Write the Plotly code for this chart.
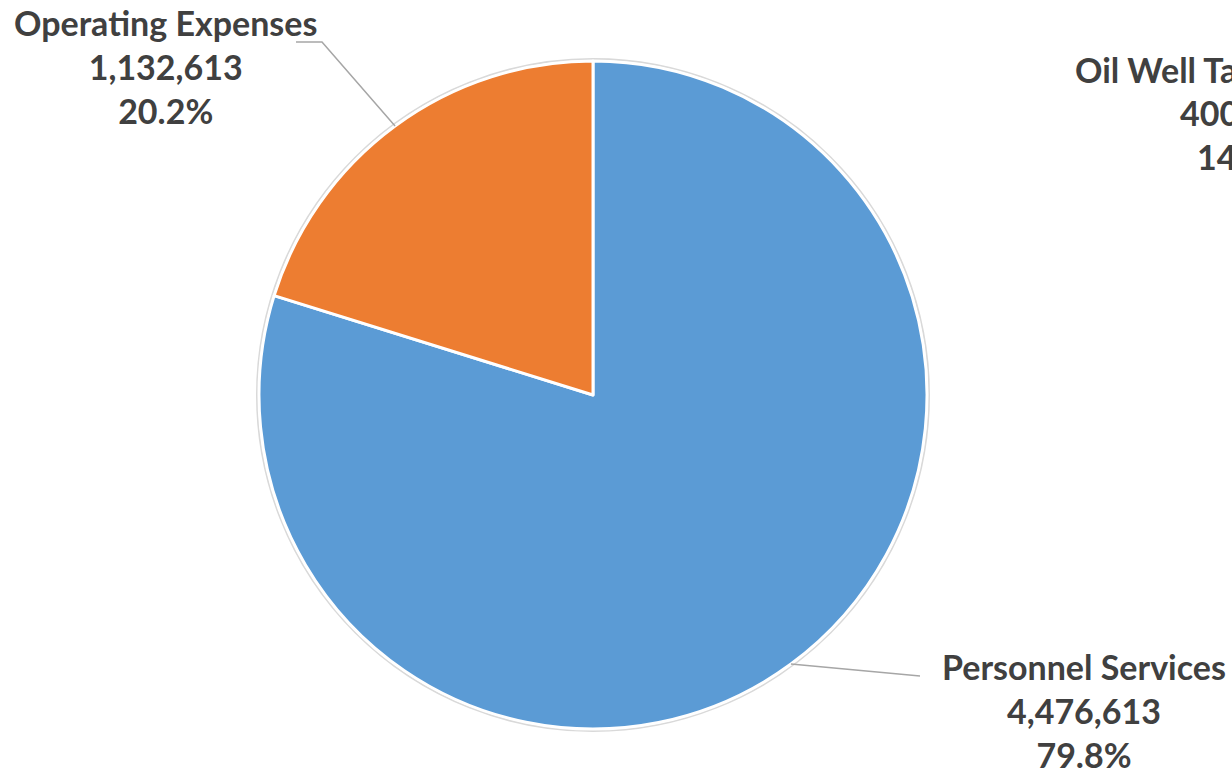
import math
import plotly.graph_objects as go

categories = ["Personnel Services", "Operating Expenses"]
values = [4476613, 1132613]
colors = ["#5B9BD5", "#ED7D31"]

# partially visible label at the right edge (cut off in the original)
extra_label_lines = ["Oil Well Ta", "400", "14"]

W, H = 1232, 772
cx, cy, R = 593, 395, 334  # pie centre / radius in pixels
FONT = "Lato"
FS = 34
TXT = "#404040"

dom_x = [(cx - R) / W, (cx + R) / W]
dom_y = [(H - cy - R) / H, (H - cy + R) / H]

fig = go.Figure()
fig.add_trace(go.Pie(
    labels=categories, values=values, sort=False, direction="clockwise",
    rotation=0, textinfo="none", hoverinfo="label+value+percent",
    marker=dict(colors=colors, line=dict(color="white", width=3)),
    domain=dict(x=dom_x, y=dom_y), showlegend=False,
))

def px2paper(x, y):
    return x / W, (H - y) / H

total = sum(values)
# label placement (layout) for each category
label_pos = {
    "Operating Expenses": dict(x=165, y=67, elbow=(322, 42), end=(296, 42)),
    "Personnel Services": dict(x=1084, y=710, elbow=(920, 676), end=(920, 676)),
}
cum = 0
shapes = []
annotations = []
for name, v in zip(categories, values):
    frac = v / total
    mid = cum + frac / 2
    cum += frac
    ang = math.radians(90 - 360 * mid)
    ex = cx + R * math.cos(ang)
    ey = cy - R * math.sin(ang)
    lp = label_pos[name]
    pts = [(ex, ey), lp["elbow"], lp["end"]]
    path = "M " + " L ".join(f"{px2paper(*p)[0]},{px2paper(*p)[1]}" for p in pts)
    shapes.append(dict(type="path", xref="paper", yref="paper", path=path,
                       line=dict(color="#A6A6A6", width=1.5)))
    lx, ly = px2paper(lp["x"], lp["y"])
    annotations.append(dict(
        x=lx, y=ly, xref="paper", yref="paper", showarrow=False,
        text=f"<b>{name}</b><br><b>{v:,}</b><br><b>{frac*100:.1f}%</b>",
        font=dict(family=FONT, size=FS, color=TXT), align="center",
        xanchor="center", yanchor="middle",
    ))

# outer soft shadow ring
shapes.insert(0, dict(type="circle", xref="paper", yref="paper",
                      x0=(cx - R - 2) / W, x1=(cx + R + 2) / W,
                      y0=(H - cy - R - 2) / H, y1=(H - cy + R + 2) / H,
                      line=dict(color="#D9D9D9", width=2), layer="below"))

extra_starts = [(1073, 70), (1178, 113), (1195, 156)]
for t, (sx, sy) in zip(extra_label_lines, extra_starts):
    px_, py_ = px2paper(sx, sy)
    annotations.append(dict(x=px_, y=py_, xref="paper", yref="paper",
                            showarrow=False, text=f"<b>{t}</b>",
                            font=dict(family=FONT, size=FS, color=TXT),
                            xanchor="left", yanchor="middle"))

fig.update_layout(
    width=W, height=H, margin=dict(l=0, r=0, t=0, b=0),
    paper_bgcolor="white", plot_bgcolor="white",
    shapes=shapes, annotations=annotations,
)
fig.write_html("out.html")
